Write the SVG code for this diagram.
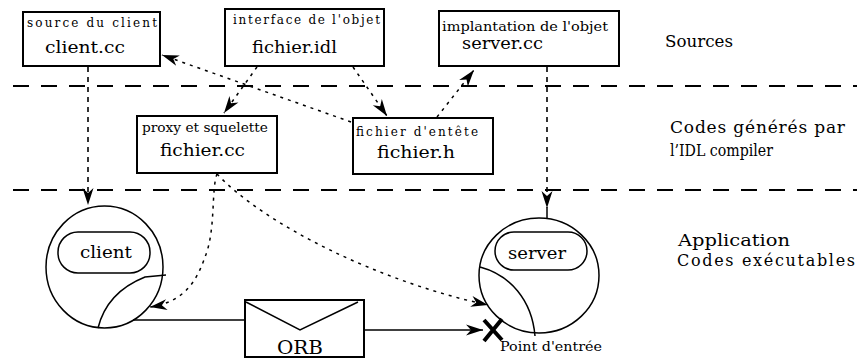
<svg xmlns="http://www.w3.org/2000/svg" width="857" height="359" viewBox="0 0 857 359">
  <style>
    .box { fill: #fff; stroke: #000; stroke-width: 2; }
    .proc { fill: none; stroke: #000; stroke-width: 1.5; }
    .sep { stroke: #000; stroke-width: 2; stroke-dasharray: 16 12; fill: none; }
    .dash { stroke: #000; stroke-width: 1.6; stroke-dasharray: 5 5; fill: none; }
    .dot { stroke: #000; stroke-width: 1.5; stroke-dasharray: 3 5; fill: none; }
    .solid { stroke: #000; stroke-width: 1.5; fill: none; }
    .t { font-family: 'DejaVu Serif', 'Liberation Serif', serif; fill: #000; }
    .small { font-size: 12px; }
    .file { font-size: 17px; }
    .label { font-size: 17px; }
    .label2 { font-size: 16px; }
    .proc-name { font-size: 17px; }
  </style>
  <defs>
    <marker id="arrow" markerUnits="userSpaceOnUse" markerWidth="20" markerHeight="14" refX="17" refY="7" orient="auto">
      <path d="M0,1.5 L17,7 L0,12.5 L5,7 Z" fill="#000"/>
    </marker>
  </defs>

  <rect width="857" height="359" fill="#fff"/>

  <!-- layer separators -->
  <g id="separators">
    <line class="sep" x1="13" y1="86" x2="857" y2="86"/>
    <line class="sep" x1="13" y1="190" x2="857" y2="190"/>
  </g>

  <!-- layer captions -->
  <g id="captions">
    <text class="t label" x="665" y="47" textLength="68" lengthAdjust="spacingAndGlyphs">Sources</text>
    <text class="t label" x="670" y="133" textLength="175" lengthAdjust="spacing">Codes générés par</text>
    <text class="t label" x="670" y="156" textLength="103" lengthAdjust="spacingAndGlyphs">l’IDL  compiler</text>
    <text class="t label2" x="678" y="246" textLength="112" lengthAdjust="spacingAndGlyphs">Application</text>
    <text class="t label2" x="677" y="266" textLength="178" lengthAdjust="spacing">Codes exécutables</text>
  </g>

  <!-- connectors -->
  <g id="connectors">
    <path class="dash" d="M88,67 L88,205" marker-end="url(#arrow)"/>
    <path class="dash" d="M547,67 L547,208" marker-end="url(#arrow)"/>
    <path class="solid" d="M547,208 L547,218"/>
    <path class="dot" d="M257,67 L224,113" marker-end="url(#arrow)"/>
    <path class="dot" d="M353,67 L387,116" marker-end="url(#arrow)"/>
    <path class="dot" d="M351,122 L162,55" marker-end="url(#arrow)"/>
    <path class="dot" d="M437,117 L474,70" marker-end="url(#arrow)"/>
    <path class="dot" d="M217,174 C211,190 216,230 205,257 C197,280 185,302 150,307" marker-end="url(#arrow)"/>
    <path class="dot" d="M217,174 C265,225 380,282 488,305" marker-end="url(#arrow)"/>
    <path class="solid" d="M133,320 L245,320"/>
    <path class="solid" d="M364,330 L483,330" marker-end="url(#arrow)"/>
  </g>

  <!-- source files -->
  <g id="client-cc">
    <rect class="box" x="23" y="12" width="137" height="54"/>
    <text class="t small" x="27" y="27" textLength="130" lengthAdjust="spacing">source du client</text>
    <text class="t file" x="45" y="53" textLength="80" lengthAdjust="spacingAndGlyphs">client.cc</text>
  </g>
  <g id="fichier-idl">
    <rect class="box" x="225" y="9" width="159" height="57"/>
    <text class="t small" x="233" y="24" textLength="147" lengthAdjust="spacing">interface de l'objet</text>
    <text class="t file" x="252" y="53" textLength="85" lengthAdjust="spacingAndGlyphs">fichier.idl</text>
  </g>
  <g id="server-cc">
    <rect class="box" x="439" y="11" width="180" height="55"/>
    <text class="t small" x="442" y="31" textLength="166" lengthAdjust="spacingAndGlyphs">implantation de l'objet</text>
    <text class="t file" x="462" y="49" textLength="81" lengthAdjust="spacingAndGlyphs">server.cc</text>
  </g>

  <!-- generated files -->
  <g id="fichier-cc">
    <rect class="box" x="137" y="116" width="140" height="57"/>
    <text class="t small" x="142" y="132" textLength="126" lengthAdjust="spacingAndGlyphs">proxy et squelette</text>
    <text class="t file" x="160" y="156" textLength="85" lengthAdjust="spacingAndGlyphs">fichier.cc</text>
  </g>
  <g id="fichier-h">
    <rect class="box" x="353" y="118" width="140" height="56"/>
    <text class="t small" x="356" y="136" textLength="122" lengthAdjust="spacing">fichier  d'entête</text>
    <text class="t file" x="377" y="158" textLength="78" lengthAdjust="spacingAndGlyphs">fichier.h</text>
  </g>

  <!-- executables -->
  <g id="client">
    <ellipse class="proc" cx="104.5" cy="267" rx="58.5" ry="61"/>
    <rect class="proc" x="58" y="232" width="92" height="41" rx="20" ry="20"/>
    <text class="t proc-name" x="80" y="258" textLength="52" lengthAdjust="spacingAndGlyphs">client</text>
    <path class="proc" d="M166,275 L145,277 C125,285 105,300 98,328"/>
  </g>
  <g id="server">
    <ellipse class="proc" cx="539" cy="275.5" rx="60" ry="57.5"/>
    <rect class="proc" x="495" y="232" width="92" height="38" rx="19" ry="19"/>
    <text class="t proc-name" x="508" y="259" textLength="58" lengthAdjust="spacingAndGlyphs">server</text>
    <path class="proc" d="M480,267 C510,275 532,300 535,336"/>
  </g>

  <!-- object request broker -->
  <g id="orb">
    <rect class="box" x="245" y="300" width="119" height="57"/>
    <polyline class="solid" points="246,302 300,330 358,302"/>
    <text class="t" font-size="18" x="277" y="354" textLength="46" lengthAdjust="spacingAndGlyphs">ORB</text>
  </g>

  <!-- entry point -->
  <g id="entry-point">
    <path d="M484,320 L502,340 M502,319 L484,341" stroke="#000" stroke-width="4" fill="none"/>
    <text class="t small" x="500" y="351" textLength="102" lengthAdjust="spacingAndGlyphs">Point d'entrée</text>
  </g>
</svg>
